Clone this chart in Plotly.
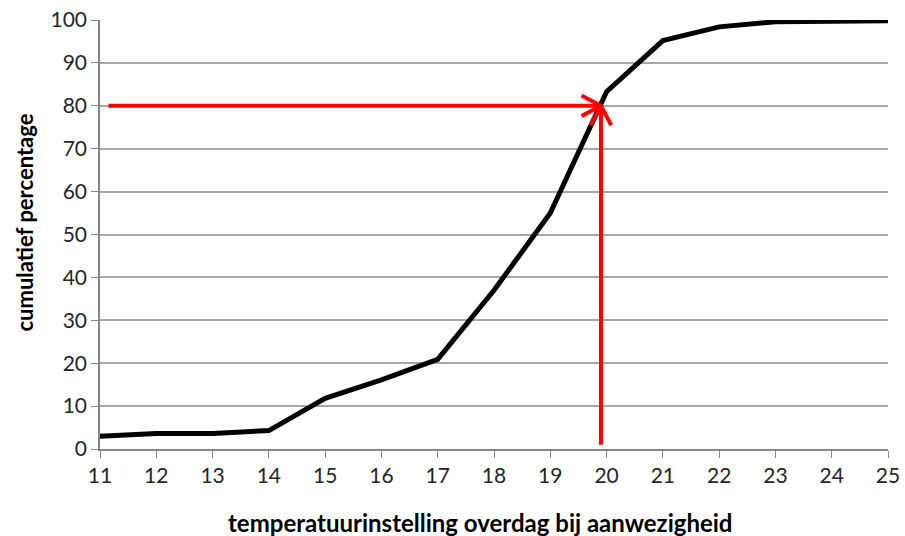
import math
import plotly.graph_objects as go

temps = [11, 12, 13, 14, 15, 16, 17, 18, 19, 20, 21, 22, 23, 24, 25]
cum_pct = [3.0, 3.6, 3.6, 4.3, 11.8, 16.1, 20.9, 37.0, 55.0, 83.3, 95.2, 98.4, 99.6, 99.7, 99.8]

x_ticks = list(range(11, 26))
y_ticks = list(range(0, 101, 10))

x_title = "temperatuurinstelling overdag bij aanwezigheid"
y_title = "cumulatief percentage"

# reading arrows
read_pct = 80
read_temp = 19.9
h_start = 11.15
v_start = 1.0

fig = go.Figure()
fig.add_trace(go.Scatter(x=temps, y=cum_pct, mode="lines",
                         line=dict(color="black", width=5), showlegend=False,
                         hoverinfo="skip"))

red = "#ff0000"
fig.add_trace(go.Scatter(x=[h_start, read_temp], y=[read_pct, read_pct], mode="lines",
                         line=dict(color=red, width=4), showlegend=False, hoverinfo="skip"))
fig.add_trace(go.Scatter(x=[read_temp, read_temp], y=[v_start, read_pct], mode="lines",
                         line=dict(color=red, width=4), showlegend=False, hoverinfo="skip"))

# open chevron heads, sized in screen pixels
x_px = 788 / 14.0
y_px = 429 / 100.0
L = 22
ang = math.radians(28)
dx = L * math.cos(ang) / x_px
dy = L * math.sin(ang) / y_px
fig.add_trace(go.Scatter(x=[read_temp - dx, read_temp, read_temp - dx],
                         y=[read_pct + dy, read_pct, read_pct - dy], mode="lines",
                         line=dict(color=red, width=4), showlegend=False, hoverinfo="skip"))
dx2 = L * math.sin(ang) / x_px
dy2 = L * math.cos(ang) / y_px
fig.add_trace(go.Scatter(x=[read_temp - dx2, read_temp, read_temp + dx2],
                         y=[read_pct - dy2, read_pct, read_pct - dy2], mode="lines",
                         line=dict(color=red, width=4), showlegend=False, hoverinfo="skip"))

font_family = "Lato, 'Open Sans', sans-serif"
axis_gray = "#868686"
fig.update_layout(
    width=905, height=536,
    margin=dict(l=100, r=17, t=20, b=87, autoexpand=False),
    plot_bgcolor="white", paper_bgcolor="white",
    font=dict(family=font_family, size=21, color="#262626"),
    hovermode=False,
    xaxis=dict(range=[11, 25], tickvals=x_ticks, ticks="outside", ticklen=7,
               tickcolor=axis_gray, showline=True, linecolor=axis_gray, linewidth=1.5,
               showgrid=False, zeroline=False, automargin=False,
               ticklabeloverflow="allow", tickfont=dict(size=21)),
    yaxis=dict(range=[0, 100], tickvals=y_ticks, ticks="outside", ticklen=7,
               tickcolor=axis_gray, showline=True, linecolor=axis_gray, linewidth=1.5,
               showgrid=True, gridcolor="#a6a6a6", gridwidth=1.5, zeroline=False,
               automargin=False, ticklabeloverflow="allow", tickfont=dict(size=21)),
    annotations=[
        dict(text="<b>" + x_title + "</b>", xref="paper", yref="paper", x=0.5, y=0,
             xanchor="center", yanchor="middle", yshift=-73, xshift=-14, showarrow=False,
             font=dict(size=24, color="black")),
        dict(text="<b>" + y_title + "</b>", xref="paper", yref="paper", x=0, y=0.5,
             xanchor="center", yanchor="middle", xshift=-76, yshift=12, textangle=-90,
             showarrow=False, font=dict(size=22, color="black")),
    ],
)

fig.write_html("out.html", config={"displayModeBar": False},
               post_script="document.body.style.margin='0';document.body.style.overflow='hidden';")
